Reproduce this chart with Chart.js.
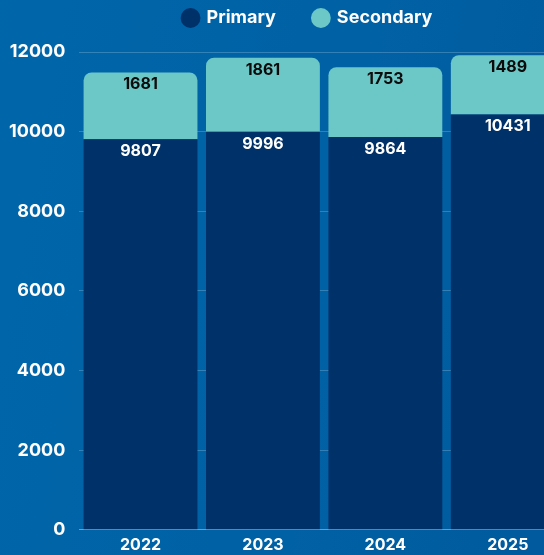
<!DOCTYPE html>
<html>
<head>
<meta charset="utf-8">
<script src="https://cdn.jsdelivr.net/npm/chart.js@4/dist/chart.umd.min.js"></script>
<style>
  html, body { margin: 0; padding: 0; overflow: hidden; }
  body { width: 544px; height: 555px; background: linear-gradient(100deg, #0066aa 0%, #0061a4 60%, #005a9d 100%); }
  #wrap { position: relative; width: 636px; height: 555px; }
</style>
</head>
<body>
<div id="wrap"><canvas id="enrollChart"></canvas></div>
<script>
const years = ['2022', '2023', '2024', '2025'];
const primary = [9807, 9996, 9864, 10431];
const secondary = [1681, 1861, 1753, 1489];
const yTicks = [0, 2000, 4000, 6000, 8000, 10000, 12000];

const FONT = 'Inter, "DejaVu Sans", sans-serif';

// draw the value near the top of each stacked segment
const segmentLabels = {
    id: 'segmentLabels',
    afterDatasetsDraw(chart) {
        const ctx = chart.ctx;
        ctx.save();
        ctx.font = 'bold 16px ' + FONT;
        ctx.textAlign = 'center';
        ctx.textBaseline = 'top';
        chart.data.datasets.forEach((ds, i) => {
            const meta = chart.getDatasetMeta(i);
            meta.data.forEach((bar, j) => {
                ctx.fillStyle = i === 0 ? '#ffffff' : '#0b0b0b';
                ctx.fillText(ds.data[j], bar.x, bar.y + 4);
            });
        });
        ctx.restore();
    }
};

// more room under the legend, and center it like the original page
const legendTweak = {
    id: 'legendTweak',
    beforeInit(chart) {
        const origFit = chart.legend.fit;
        chart.legend.fit = function () {
            origFit.bind(chart.legend)();
            this.height += 15;
        };
    },
    afterLayout(chart) {
        const lg = chart.legend;
        const shift = 26;
        lg.left += shift;
        lg.right += shift;
    }
};

new Chart(document.getElementById('enrollChart'), {
    type: 'bar',
    data: {
        labels: years,
        datasets: [
            {
                label: 'Primary',
                data: primary,
                backgroundColor: '#003168',
                borderWidth: 0,
                categoryPercentage: 0.93,
                barPercentage: 1
            },
            {
                label: 'Secondary',
                data: secondary,
                backgroundColor: '#6cc8c6',
                borderWidth: 0,
                borderRadius: { topLeft: 8, topRight: 8, bottomLeft: 0, bottomRight: 0 },
                borderSkipped: false,
                categoryPercentage: 0.93,
                barPercentage: 1
            }
        ]
    },
    options: {
        responsive: true,
        maintainAspectRatio: false,
        animation: false,
        layout: { padding: { top: -29, right: 67, left: -5, bottom: -6 } },
        plugins: {
            legend: {
                position: 'top',
                labels: {
                    usePointStyle: true,
                    pointStyle: 'circle',
                    boxWidth: 14,
                    boxHeight: 14,
                    padding: 38,
                    color: '#ffffff',
                    font: { family: FONT, size: 18, weight: 'bold' }
                }
            },
            tooltip: { enabled: false }
        },
        scales: {
            x: {
                stacked: true,
                grid: { display: false, drawTicks: false },
                border: { display: true, color: 'rgba(255,255,255,0.25)' },
                ticks: {
                    color: '#ffffff',
                    padding: 6,
                    font: { family: FONT, size: 16, weight: 'bold' }
                }
            },
            y: {
                stacked: true,
                min: 0,
                max: 12000,
                afterBuildTicks: axis => { axis.ticks = yTicks.map(v => ({ value: v })); },
                grid: { color: 'rgba(255,255,255,0.2)', drawTicks: false },
                border: { display: false },
                ticks: {
                    color: '#ffffff',
                    padding: 14,
                    callback: v => String(v),
                    font: { family: FONT, size: 18, weight: 'bold' }
                }
            }
        }
    },
    plugins: [segmentLabels, legendTweak]
});
</script>
</body>
</html>
